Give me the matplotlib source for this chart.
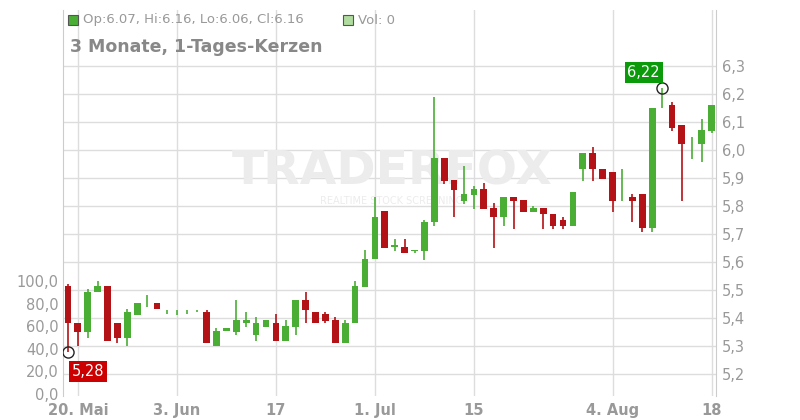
import matplotlib
matplotlib.use("Agg")
import matplotlib.pyplot as plt
from matplotlib.patches import Rectangle

tick_idx = [1, 11, 21, 31, 41, 55, 65]
tick_labels = ["20. Mai", "3. Jun", "17", "1. Jul", "15", "4. Aug", "18"]

opens = [5.514, 5.381, 5.351, 5.492, 5.514, 5.381, 5.330, 5.411, 5.452, 5.452,
         5.428, 5.420, 5.420, 5.420, 5.420, 5.301, 5.354, 5.351, 5.381, 5.339,
         5.369, 5.381, 5.319, 5.369, 5.464, 5.420, 5.414, 5.393, 5.312, 5.381,
         5.512, 5.611, 5.782, 5.652, 5.652, 5.640, 5.640, 5.742, 5.973, 5.893,
         5.819, 5.839, 5.861, 5.792, 5.760, 5.831, 5.821, 5.780, 5.792, 5.770,
         5.750, 5.730, 5.931, 5.990, 5.931, 5.920, 5.821, 5.831, 5.842, 5.720,
         6.149, 6.161, 6.089, 6.020, 6.020, 6.069]
highs = [5.521, 5.381, 5.504, 5.532, 5.514, 5.381, 5.432, 5.452, 5.482, 5.452,
         5.428, 5.428, 5.430, 5.428, 5.428, 5.363, 5.363, 5.464, 5.423, 5.402,
         5.393, 5.414, 5.393, 5.464, 5.494, 5.420, 5.420, 5.402, 5.392, 5.532,
         5.643, 5.833, 5.782, 5.682, 5.682, 5.642, 5.750, 6.190, 5.973, 5.893,
         5.943, 5.871, 5.881, 5.810, 5.831, 5.833, 5.821, 5.800, 5.792, 5.770,
         5.760, 5.849, 5.990, 6.012, 5.931, 5.920, 5.931, 5.842, 5.842, 6.149,
         6.220, 6.170, 6.089, 6.048, 6.110, 6.161]
lows = [5.280, 5.300, 5.330, 5.492, 5.319, 5.312, 5.301, 5.411, 5.440, 5.431,
        5.413, 5.412, 5.415, 5.420, 5.312, 5.301, 5.354, 5.339, 5.369, 5.319,
        5.369, 5.319, 5.319, 5.339, 5.381, 5.381, 5.381, 5.312, 5.312, 5.381,
        5.512, 5.611, 5.651, 5.640, 5.631, 5.631, 5.607, 5.730, 5.879, 5.760,
        5.807, 5.789, 5.789, 5.651, 5.730, 5.718, 5.780, 5.780, 5.718, 5.718,
        5.718, 5.730, 5.890, 5.890, 5.896, 5.780, 5.819, 5.742, 5.708, 5.708,
        6.149, 6.069, 5.819, 5.968, 5.958, 6.060]
closes = [5.381, 5.351, 5.492, 5.514, 5.319, 5.330, 5.420, 5.452, 5.454, 5.431,
          5.430, 5.420, 5.420, 5.420, 5.312, 5.354, 5.363, 5.393, 5.393, 5.381,
          5.393, 5.319, 5.371, 5.464, 5.428, 5.381, 5.390, 5.312, 5.381, 5.514,
          5.611, 5.762, 5.651, 5.661, 5.631, 5.640, 5.742, 5.973, 5.890, 5.857,
          5.843, 5.861, 5.789, 5.760, 5.831, 5.819, 5.780, 5.792, 5.770, 5.730,
          5.730, 5.849, 5.990, 5.931, 5.896, 5.819, 5.821, 5.819, 5.720, 6.149,
          6.150, 6.080, 6.020, 6.020, 6.071, 6.161]

price_ticks = [5.2, 5.3, 5.4, 5.5, 5.6, 5.7, 5.8, 5.9, 6.0, 6.1, 6.2, 6.3]
vol_ticks = [0, 20, 40, 60, 80, 100]

RED = "#b31217"
GREEN = "#4aae35"
GRID = "#dddddd"
TXT = "#999999"

fig = plt.figure(figsize=(8, 4.2), dpi=100)
ax = fig.add_axes([63/800, 1-396/420, 653/800, 386/420])
ax.set_xlim(-0.5, 65.45)
ax.set_ylim(5.2 - 22/280, 6.3 + 56/280)

vax = ax.twinx()
vax.set_ylim(-2/22.6*20, 384/22.6*20)
vax.yaxis.tick_left()
vax.set_yticks(vol_ticks)
vax.set_yticklabels([f"{v:.1f}".replace(".", ",") for v in vol_ticks])
vax.tick_params(axis="y", length=0, colors=TXT, labelsize=10.5, pad=3)
for s in vax.spines.values():
    s.set_visible(False)

ax.grid(True, color=GRID, lw=1)
ax.set_axisbelow(True)
for s in ax.spines.values():
    s.set_visible(False)
ax.spines["left"].set_visible(True)
ax.spines["left"].set_color("#cccccc")
ax.spines["right"].set_visible(True)
ax.spines["right"].set_color("#cccccc")

ax.text(0.49*800/653 - 63/653, 0.58, "TRADERFOX", transform=ax.transAxes, fontsize=34,
        fontweight="bold", color="#ececec", ha="center", va="center", zorder=1)
ax.text(0.49*800/653 - 63/653, 0.505, "REALTIME STOCK SCREENING", transform=ax.transAxes,
        fontsize=7, color="#ececec", ha="center", va="center", zorder=1)

w = 0.68
for i, (o, h, l, c) in enumerate(zip(opens, highs, lows, closes)):
    col = GREEN if c >= o else RED
    ax.vlines(i, l, h, color=col, lw=1.2, zorder=3)
    bot = min(o, c)
    hgt = max(abs(c - o), 0.002)
    ax.add_patch(Rectangle((i - w/2, bot), w, hgt, color=col, zorder=4, lw=0))

ax.yaxis.tick_right()
ax.set_yticks(price_ticks)
ax.set_yticklabels([f"{v:.1f}".replace(".", ",") for v in price_ticks])
ax.set_xticks(tick_idx)
ax.set_xticklabels(tick_labels)
ax.tick_params(axis="both", length=0, colors=TXT, labelsize=10.5)
ax.tick_params(axis="y", pad=4)
ax.tick_params(axis="x", pad=5)
for t in ax.get_xticklabels():
    t.set_fontweight("bold")

imin = lows.index(min(lows))
imax = highs.index(max(highs))
ax.plot(imin, lows[imin], "o", mfc="none", mec="#222222", ms=8, zorder=6)
ax.text(imin + 0.4, lows[imin] - 0.045, f"{lows[imin]:.2f}".replace(".", ","), color="white",
        fontsize=10.5, ha="left", va="top", zorder=7,
        bbox=dict(boxstyle="square,pad=0.2", fc="#cc0000", ec="none"))
ax.plot(imax, highs[imax], "o", mfc="none", mec="#222222", ms=8, zorder=6)
ax.text(imax - 0.2, highs[imax] + 0.03, f"{highs[imax]:.2f}".replace(".", ","), color="white",
        fontsize=10.5, ha="right", va="bottom", zorder=7,
        bbox=dict(boxstyle="square,pad=0.2", fc="#0a9a0a", ec="none"))

fig.patches.append(Rectangle((68/800, 1-25/420), 10/800, 10/420, transform=fig.transFigure,
                             fc=GREEN, ec="#555555", lw=0.8))
fig.text(83/800, 1-20/420, f"Op:{opens[-1]:.2f}, Hi:{highs[-1]:.2f}, Lo:{lows[-1]:.2f}, Cl:{closes[-1]:.2f}",
         fontsize=9.5, color=TXT, va="center")
fig.patches.append(Rectangle((343/800, 1-25/420), 10/800, 10/420, transform=fig.transFigure,
                             fc="#b0dca0", ec="#555555", lw=0.8))
fig.text(358/800, 1-20/420, "Vol: 0", fontsize=9.5, color=TXT, va="center")
fig.text(70/800, 1-47/420, "3 Monate, 1-Tages-Kerzen", fontsize=12.5, color="#888888",
         fontweight="bold", va="center")

fig.savefig("out.png", dpi=100)
